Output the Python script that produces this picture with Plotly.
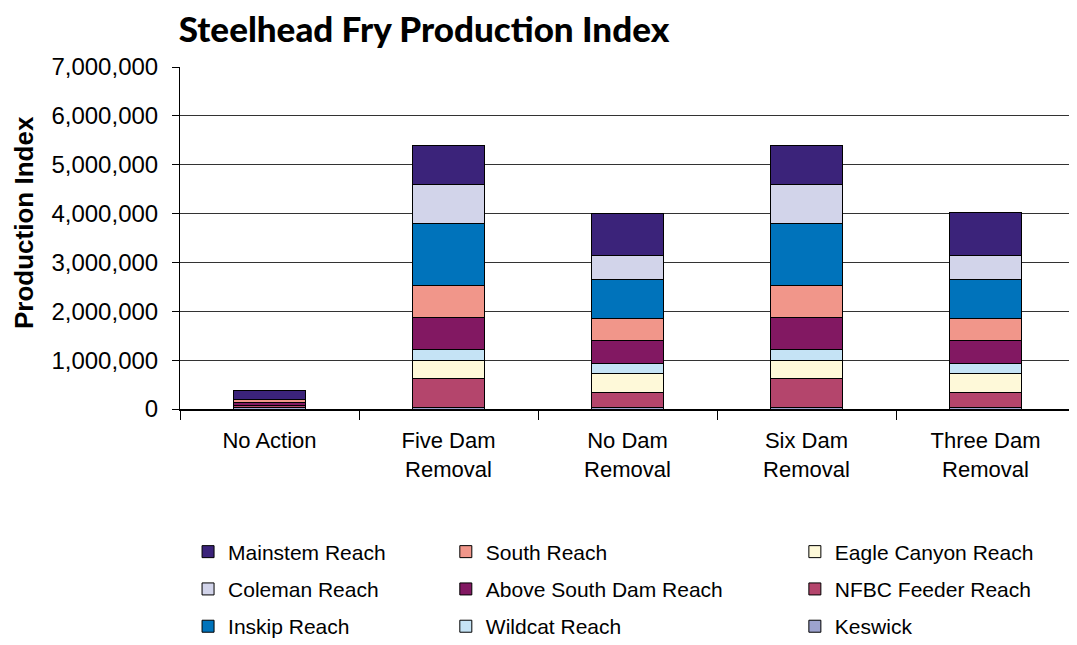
import plotly.graph_objects as go

categories = ["No Action", "Five Dam<br>Removal", "No Dam<br>Removal", "Six Dam<br>Removal", "Three Dam<br>Removal"]

keswick  = [40000, 40000, 35000, 40000, 30000]
nfbc     = [30000, 580000, 305000, 580000, 310000]
eagle    = [0, 380000, 390000, 380000, 390000]
wildcat  = [0, 215000, 210000, 215000, 210000]
asd      = [60000, 655000, 470000, 655000, 470000]
south    = [70000, 660000, 450000, 660000, 450000]
inskip   = [0, 1270000, 800000, 1270000, 800000]
coleman  = [0, 805000, 490000, 805000, 490000]
mainstem = [170000, 795000, 855000, 795000, 870000]

y_ticks = [0, 1000000, 2000000, 3000000, 4000000, 5000000, 6000000, 7000000]

# (name, values, colour, legend id, rank within legend column) bottom -> top
series = [
    ("Keswick", keswick, "#9DA3CF", "legend3", 3),
    ("NFBC Feeder Reach", nfbc, "#B4456C", "legend3", 2),
    ("Eagle Canyon Reach", eagle, "#FEF9D9", "legend3", 1),
    ("Wildcat Reach", wildcat, "#C5E3F5", "legend2", 3),
    ("Above South Dam Reach", asd, "#821862", "legend2", 2),
    ("South Reach", south, "#F1968A", "legend2", 1),
    ("Inskip Reach", inskip, "#0073BB", "legend", 3),
    ("Coleman Reach", coleman, "#D2D4EA", "legend", 2),
    ("Mainstem Reach", mainstem, "#3B237A", "legend", 1),
]

fig = go.Figure()
for name, vals, col, leg, rank in series:
    fig.add_trace(go.Bar(
        x=categories, y=vals, name=name, legend=leg, legendgroup=name,
        legendrank=rank,
        marker=dict(color=col, line=dict(color="black", width=1)),
    ))

font_main = "Liberation Sans, Arial, sans-serif"
legend_common = dict(
    orientation="v", traceorder="grouped", tracegroupgap=7,
    font=dict(family=font_main, size=21, color="black"),
    bgcolor="rgba(0,0,0,0)", yanchor="top", xanchor="left",
    yref="container", y=0.1884,
)

fig.update_layout(
    width=1077, height=645,
    margin=dict(l=172, r=10, t=59, b=244),
    paper_bgcolor="white", plot_bgcolor="white",
    barmode="stack", bargap=0.6,
    title=dict(
        text="Steelhead Fry Production Index",
        font=dict(family="Lato, sans-serif", size=35, color="black", weight=900),
        x=0.1586, xref="container", xanchor="left",
        yref="container", y=(645 - 22) / 645, yanchor="middle",
    ),
    font=dict(family=font_main, size=21, color="black"),
    xaxis=dict(
        showline=True, linecolor="black", linewidth=2,
        ticks="outside", tickson="boundaries", ticklen=9, tickcolor="black",
        tickfont=dict(family=font_main, size=22),
        ticklabelstandoff=11,
        showgrid=False,
    ),
    yaxis=dict(
        range=[0, 7000000], tickvals=y_ticks, tickformat=",d",
        showline=True, linecolor="black", linewidth=1,
        ticks="outside", ticklen=7, tickcolor="black",
        showgrid=True, gridcolor="#333333", gridwidth=1,
        zeroline=False,
        tickfont=dict(family=font_main, size=24),
        ticklabelstandoff=9,
    ),
    annotations=[dict(
        text="<b>Production Index</b>", textangle=-90,
        xref="paper", yref="paper", x=(24 - 180) / 895, y=(409 - 223) / 342,
        xanchor="center", yanchor="middle", showarrow=False,
        font=dict(family=font_main, size=26, color="black"),
    )],
    legend=dict(x=0.009, **legend_common),
    legend2=dict(x=0.297, **legend_common),
    legend3=dict(x=0.687, **legend_common),
)

fig.write_html("out.html")
